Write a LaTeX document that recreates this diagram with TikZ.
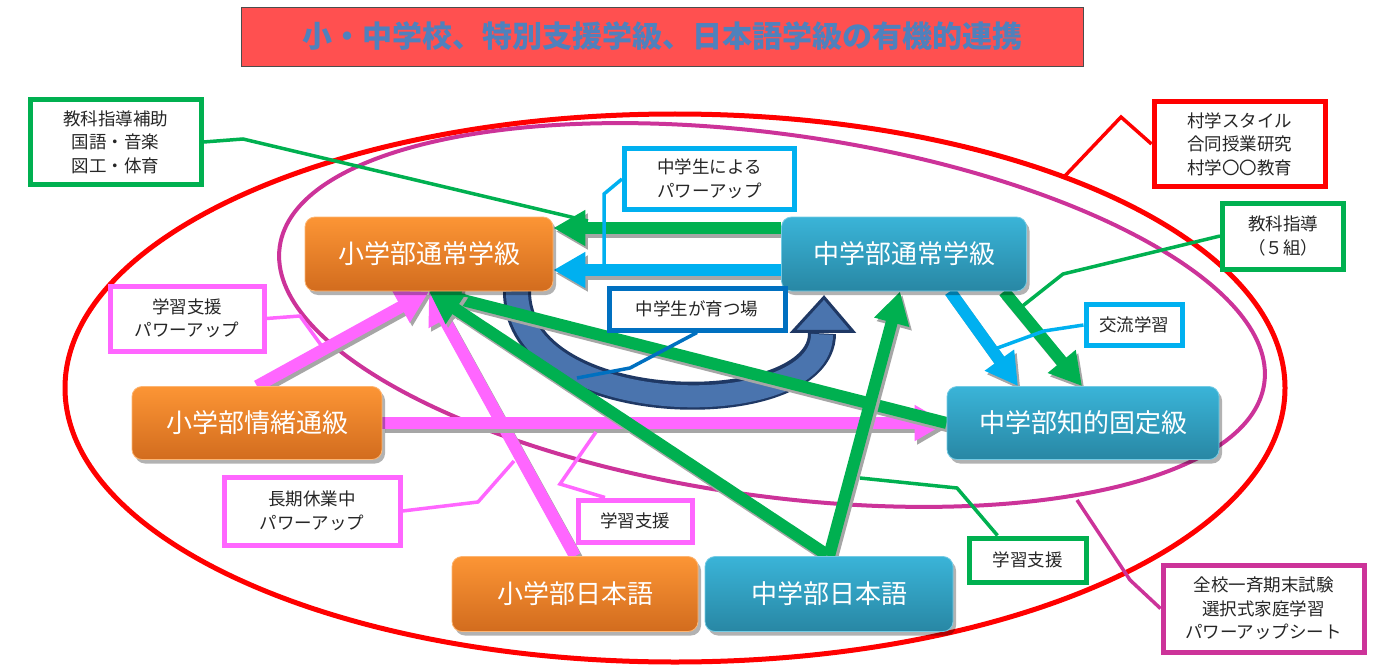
\documentclass[tikz,border=0pt]{standalone}
\usepackage{fontspec}
\setmainfont{Noto Sans CJK JP}
\usetikzlibrary{arrows.meta,shadows,calc}
\definecolor{cgreen}{HTML}{00B050}
\definecolor{ccyan}{HTML}{00B0F0}
\definecolor{cpink}{HTML}{FF66FF}
\definecolor{cred}{HTML}{FF0000}
\definecolor{cmag}{HTML}{CC3399}
\definecolor{cblue}{HTML}{0070C0}
\definecolor{otop}{HTML}{FC9535}
\definecolor{obot}{HTML}{D26C1E}
\definecolor{btop}{HTML}{3AB4D8}
\definecolor{bbot}{HTML}{2887A4}
\definecolor{titlered}{HTML}{FF5050}
\definecolor{titleblue}{HTML}{4F81BD}
\definecolor{ushape}{HTML}{4A74AE}
\definecolor{udark}{HTML}{1F3864}
\definecolor{shd}{HTML}{A6A6A6}
\pgfdeclarelayer{bg}
\pgfsetlayers{bg,main}
\tikzset{
 unitbox/.style={rounded corners=10pt, text=white, font=\fontsize{26}{30}\selectfont,
   drop shadow={shadow xshift=3pt,shadow yshift=-4pt,fill=black,opacity=0.3}},
 orangebox/.style={unitbox, top color=otop, bottom color=obot, draw=otop!70!white, line width=0.8pt},
 bluebox/.style={unitbox, top color=btop, bottom color=bbot, draw=btop!70!white, line width=0.8pt},
 callout/.style={draw=#1, line width=5pt, fill=white, text=black!85,
   font=\fontsize{17.5}{23.5}\selectfont, align=center, inner sep=0pt},
 cline/.style={draw=#1, line width=3.5pt},
 fat/.style={line width=12pt, draw=#1, -{Triangle[width=34pt,length=32pt]}},
}
\newcommand\fatarrow[2]{%
  \draw[fat=shd, transform canvas={shift={(2.5pt,-3.5pt)}}] #2;
  \draw[fat=#1] #2;}
\begin{document}
\begin{tikzpicture}[x=1pt,y=-1pt]
\useasboundingbox (0,0) rectangle (1373,666);

% title
\node[draw=black!70, line width=0.8pt, fill=titlered, minimum width=842pt, minimum height=59pt,
  font=\bfseries\fontsize{30}{36}\selectfont, text=titleblue] (title) at (662,36.5)
  {小・中学校、特別支援学級、日本語学級の有機的連携};

% unit boxes
\node[orangebox, minimum width=248pt, minimum height=74pt] (es) at (429,254) {小学部通常学級};
\node[bluebox, minimum width=245pt, minimum height=74pt] (js) at (904,254) {中学部通常学級};
\node[orangebox, minimum width=250pt, minimum height=73pt] (ej) at (257,423) {小学部情緒通級};
\node[bluebox, minimum width=272pt, minimum height=73pt] (jc) at (1083,423) {中学部知的固定級};
\node[orangebox, minimum width=246pt, minimum height=75pt] (en) at (575,594) {小学部日本語};
\node[bluebox, minimum width=248pt, minimum height=75pt] (jn) at (829,594) {中学部日本語};

% callouts
\node[callout=cgreen, minimum width=171pt, minimum height=84pt] (c1) at (115.5,142) {教科指導補助\\国語・音楽\\図工・体育};
\node[callout=cred, minimum width=171pt, minimum height=84pt] (c2) at (1239.5,144) {村学スタイル\\合同授業研究\\村学〇〇教育};
\node[callout=ccyan, minimum width=170pt, minimum height=61pt] (c3) at (709.5,179) {中学生による\\パワーアップ};
\node[callout=cgreen, minimum width=121pt, minimum height=66pt] (c4) at (1283,236) {教科指導\\（５組）};
\node[callout=cpink, minimum width=154pt, minimum height=65pt] (c5) at (187,318.5) {学習支援\\パワーアップ};
\node[callout=cblue, minimum width=176pt, minimum height=42pt] (c6) at (697,309) {中学生が育つ場};
\node[callout=ccyan, minimum width=96pt, minimum height=41pt] (c7) at (1134,325) {交流学習};
\node[callout=cpink, minimum width=176pt, minimum height=68pt] (c8) at (312,511) {長期休業中\\パワーアップ};
\node[callout=cpink, minimum width=114pt, minimum height=42pt] (c9) at (635,521) {学習支援};
\node[callout=cgreen, minimum width=117pt, minimum height=44pt] (c10) at (1027.5,560) {学習支援};
\node[callout=cmag, minimum width=201pt, minimum height=87pt] (c11) at (1263.5,608.5) {全校一斉期末試験\\選択式家庭学習\\パワーアップシート};

\begin{pgfonlayer}{bg}
% ellipses
\draw[cred, line width=5pt] (675,388) ellipse [x radius=610, y radius=274];
\draw[cmag, line width=4pt, rotate around={-7.9:(772,315)}] (772,315) ellipse [x radius=497, y radius=181];

% U-turn arrow
\draw[udark, line width=28pt] ([xshift=88pt]es.south) .. controls +(0,130) and +(0,90) .. ($(js.south)+(-82,42)$);
\draw[ushape, line width=22pt] ([xshift=88pt]es.south) .. controls +(0,130) and +(0,90) .. ($(js.south)+(-82,43)$);
\filldraw[fill=ushape, draw=udark, line width=3pt, line join=miter]
  ($(js.south)+(-111,40)$) -- ($(js.south)+(-80,6)$) -- ($(js.south)+(-51,40)$) -- cycle;

% thick arrows
\fatarrow{cgreen}{([yshift=26pt]js.west) -- ([yshift=26pt]es.east)}
\fatarrow{ccyan}{([yshift=-16pt]js.west) -- ([yshift=-16pt]es.east)}
\fatarrow{cpink}{(en.north) -- (es.south)}
\fatarrow{cpink}{(ej.east) -- (jc.west)}
\fatarrow{cpink}{(ej.north) -- (es.south)}
\fatarrow{cgreen}{(jc.west) -- (es.south)}
\fatarrow{cgreen}{(jn.north) -- (es.south)}
\fatarrow{cgreen}{(jn.north) -- ([xshift=-4pt]js.south)}
\fatarrow{ccyan}{([xshift=46pt]js.south) -- ([xshift=-65pt]jc.north)}
\fatarrow{cgreen}{([xshift=100pt]js.south) -- ([xshift=-1pt]jc.north)}

% callout lines
\draw[cline=cgreen] (c1.east) -- (243,139) -- (588,221);
\draw[cline=cred] (c2.west) -- (1121,117) -- (1063,178);
\draw[cline=ccyan] (c3.west) -- (604,194) -- (604,268);
\draw[cline=cgreen] (c4.west) -- (1063,274) -- (1020,308);
\draw[cline=ccyan] (c7.west) -- (1044,331) -- (992,350);
\draw[cline=cpink] (c5.east) -- (300,316) -- (321,345);
\draw[cline=cblue] (c6.south) -- (630,368) -- (577,378);
\draw[cline=cpink] (c8.east) -- (478,502) -- (514,461);
\draw[cline=cpink] ([xshift=-30pt]c9.north) -- (560,484) -- (596,432);
\draw[cline=cgreen] ([xshift=-30pt]c10.north) -- (957,488) -- (860,478);
\draw[cline=cmag] (c11.west) -- (1130,580) -- (1077,500);
\end{pgfonlayer}
\end{tikzpicture}
\end{document}
